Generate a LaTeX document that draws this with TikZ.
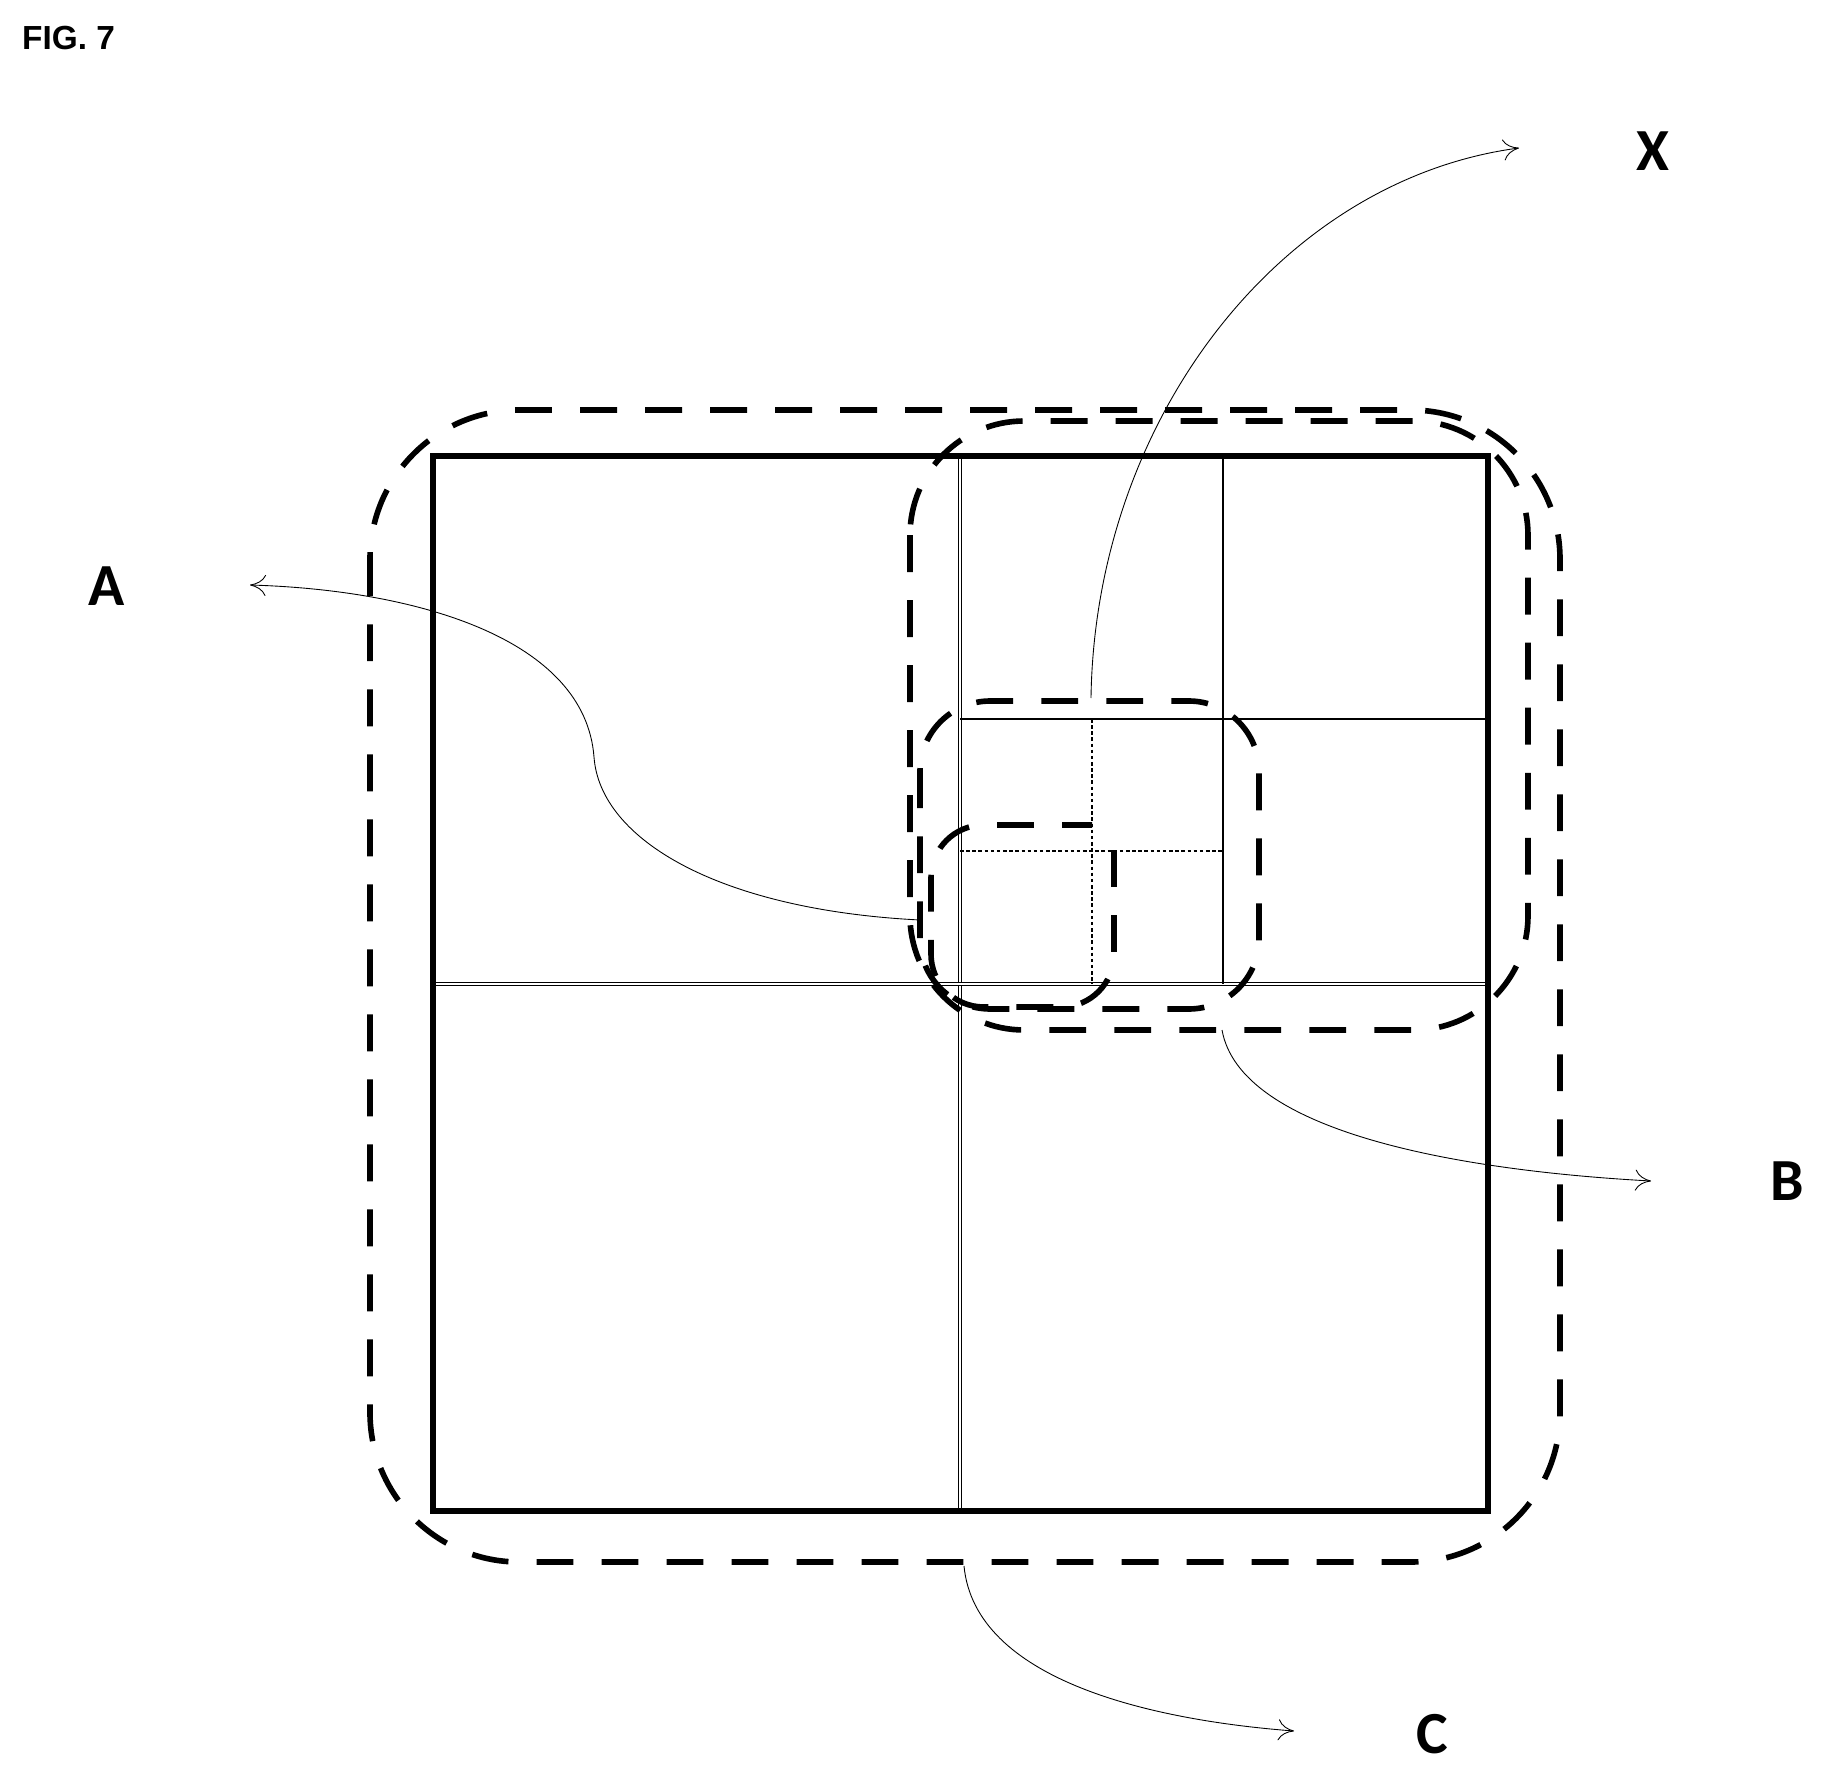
\documentclass[tikz,border=0pt]{standalone}
\usepackage{fontspec}
\setmainfont{Carlito}
\newfontfamily\figfont{Liberation Sans}
\usetikzlibrary{arrows.meta}
\tikzset{
  bigdash/.style={line width=3.2pt, dash pattern=on 21pt off 16pt},
  frame/.style={line width=3pt},
  thin/.style={line width=0.6pt},
  midline/.style={double, line width=0.5pt, double distance=1.6pt},
  leader/.style={line width=0.5pt, -{To[length=9pt,width=12pt]}},
  letter/.style={font=\fontsize{34}{34}\selectfont\bfseries}
}
\begin{document}
\begin{tikzpicture}[x=0.02cm, y=-0.02cm]
        \useasboundingbox (0,0) rectangle (1826,1777);
        % title
        \node[font=\fontsize{19}{19}\selectfont\bfseries\figfont, anchor=west] (title) at (16,38) {FIG. 7};
        % coordinates for the square
        \coordinate (topleft)      at (433, 456);
        \coordinate (topright)     at (1488,456);
        \coordinate (bottomleft)   at (433, 1511);
        \coordinate (bottomright)  at (1488,1511);
        % inner division lines
        \draw[midline] (960,456)  -- (960,1511);
        \draw[midline] (433,984)  -- (1488,984);
        \draw[thin] (1223,456) -- (1223,984);
        \draw[thin] (960,719)  -- (1488,719);
        \draw[thin, dashed, dash pattern=on 2pt off 1.5pt] (1092,719) -- (1092,984);
        \draw[thin, dashed, dash pattern=on 2pt off 1.5pt] (960,851)  -- (1223,851);
        % drawing the square
        \draw[frame] (topleft) rectangle (bottomright);
        % dashed regions
        \draw[bigdash, rounded corners=85] (370,410) rectangle (1560,1562);
        \draw[bigdash, rounded corners=65] (910,421) rectangle (1528,1030);
        \draw[bigdash, rounded corners=40] (920,701) rectangle (1259,1009);
        \draw[bigdash, rounded corners=30] (1114,850) |- (931,1007) |- (1092,825);
        % labels
        \node[letter] (A) at (107,586)  {A};
        \node[letter] (X) at (1653,151) {X};
        \node[letter] (B) at (1787,1181) {B};
        \node[letter] (C) at (1432,1734) {C};
        % leader ends
        \coordinate (astart) at (920,920);
        \coordinate (aend)   at (250,585);
        \coordinate (xstart) at (1091,698);
        \coordinate (xend)   at (1519,148);
        \coordinate (bstart) at (1222,1030);
        \coordinate (bend)   at (1651,1181);
        \coordinate (cstart) at (964,1566);
        \coordinate (cend)   at (1294,1731);
        \draw[leader] (astart) .. controls (720,910) and (600,840) .. (594,757)
                               .. controls (585,640) and (420,590) .. (aend);
        \draw[leader] (xstart) .. controls (1095,420) and (1280,180) .. (xend);
        \draw[leader] (bstart) .. controls (1240,1130) and (1450,1170) .. (bend);
        \draw[leader] (cstart) .. controls (975,1680) and (1150,1720) .. (cend);
\end{tikzpicture}
\end{document}
